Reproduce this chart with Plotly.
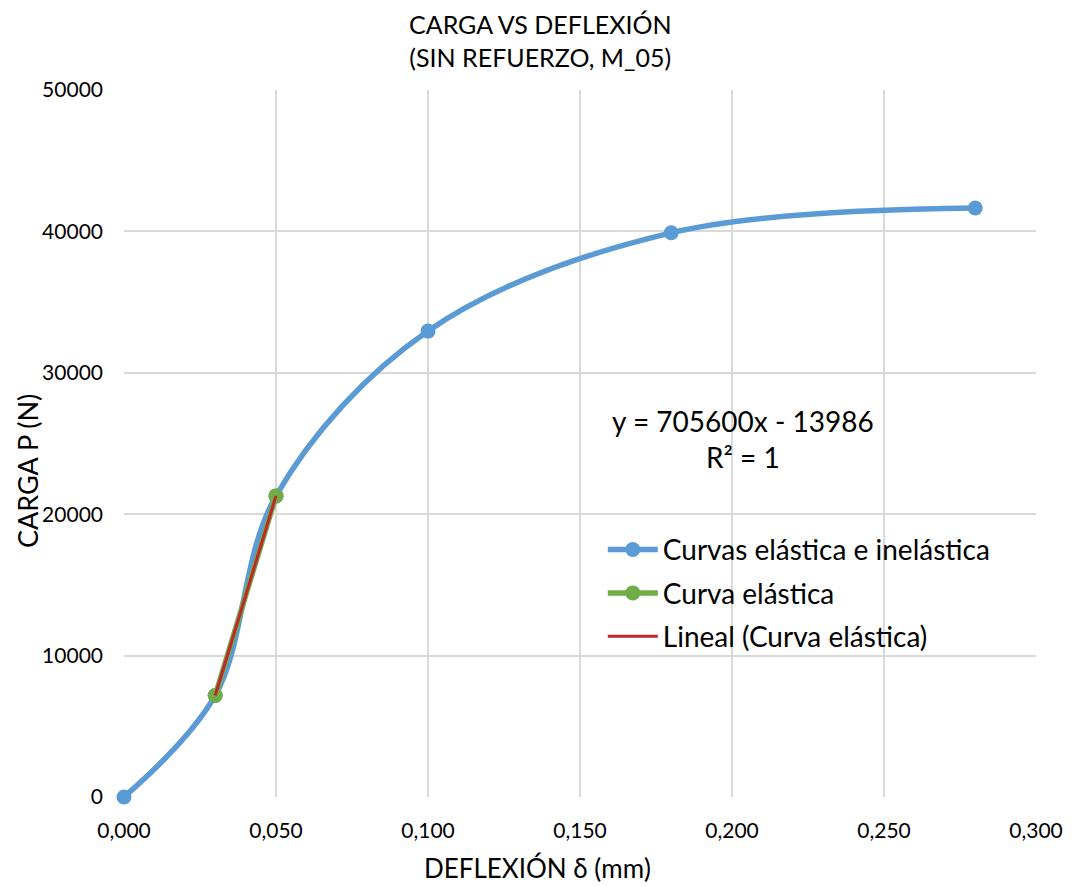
import plotly.graph_objects as go

# Load–deflection data, specimen M_05 (no reinforcement)
deflexion = [0.000, 0.030, 0.050, 0.100, 0.180, 0.280]
carga = [0, 7182, 21294, 32950, 39900, 41650]

# Elastic range
deflexion_elastica = [0.030, 0.050]
carga_elastica = [7182, 21294]

# Linear fit of the elastic range
pendiente = 705600
intercepto = -13986
r2 = 1

x_ticks = [0.0, 0.05, 0.10, 0.15, 0.20, 0.25, 0.30]
y_ticks = [0, 10000, 20000, 30000, 40000, 50000]

FONT = "Lato"
GRID = "#d9d9d9"
W, H = 1074, 887
L, R, T, B = 124, 38, 90, 90

fig = go.Figure()

fig.add_trace(go.Scatter(
    x=deflexion, y=carga, mode="lines+markers",
    name="Curvas elástica e inelástica", legendgroup="a",
    line=dict(color="#5B9BD5", width=5.5, shape="spline", smoothing=1.0),
    marker=dict(color="#5B9BD5", size=15),
    cliponaxis=False,
))

fig.add_trace(go.Scatter(
    x=deflexion_elastica, y=carga_elastica, mode="lines+markers",
    name="Curva elástica", legendgroup="b",
    line=dict(color="#70AD47", width=5.5),
    marker=dict(color="#70AD47", size=15),
    cliponaxis=False,
))

ajuste_y = [pendiente * x + intercepto for x in deflexion_elastica]
fig.add_trace(go.Scatter(
    x=deflexion_elastica, y=ajuste_y, mode="lines",
    name="Lineal (Curva elástica)", legendgroup="c",
    line=dict(color="#C0272D", width=3),
))

# Trendline equation
fig.add_annotation(
    x=0.2036, y=25300, xref="x", yref="y",
    text=f"y = {pendiente}x - {abs(intercepto)}<br>R² = {r2}",
    showarrow=False, align="center",
    font=dict(family=FONT, size=28, color="#000000"),
)

# Chart title and axis titles, centred on the chart area
def px_x(px):
    return (px - L) / (W - L - R)

def px_y(py):
    return (H - B - py) / (H - T - B)

fig.add_annotation(
    x=px_x(540), y=px_y(40), xref="paper", yref="paper",
    text="CARGA VS DEFLEXIÓN<br>(SIN REFUERZO, M_05)",
    showarrow=False, align="center", xanchor="center", yanchor="middle",
    font=dict(family=FONT, size=25, color="#000000"),
)
fig.add_annotation(
    x=px_x(537), y=px_y(868), xref="paper", yref="paper",
    text="DEFLEXIÓN δ (mm)",
    showarrow=False, xanchor="center", yanchor="middle",
    font=dict(family=FONT, size=26, color="#000000"),
)
fig.add_annotation(
    x=px_x(27), y=px_y(471), xref="paper", yref="paper",
    text="CARGA P (N)", textangle=-90,
    showarrow=False, xanchor="center", yanchor="middle",
    font=dict(family=FONT, size=27, color="#000000"),
)

fig.update_layout(
    width=W, height=H,
    margin=dict(l=L, r=R, t=T, b=B),
    paper_bgcolor="white", plot_bgcolor="white",
    separators=",.",
    legend=dict(
        x=0.525, y=0.385, xanchor="left", yanchor="top",
        bgcolor="rgba(0,0,0,0)",
        font=dict(family=FONT, size=28, color="#000000"),
        tracegroupgap=4, itemwidth=50,
    ),
    showlegend=True,
)

fig.update_xaxes(
    range=[0, 0.3], tickvals=x_ticks, tickformat=".3f",
    showgrid=True, gridcolor=GRID, gridwidth=2,
    zeroline=False, showline=False, ticks="",
    ticklabelstandoff=19,
    tickfont=dict(family=FONT, size=21, color="#000000"),
)
fig.update_yaxes(
    range=[0, 50000], tickvals=y_ticks, tickformat="d",
    showgrid=True, gridcolor=GRID, gridwidth=2,
    zeroline=False, showline=False, ticks="",
    ticklabelstandoff=20,
    tickfont=dict(family=FONT, size=21, color="#000000"),
)

fig.write_html("out.html")
